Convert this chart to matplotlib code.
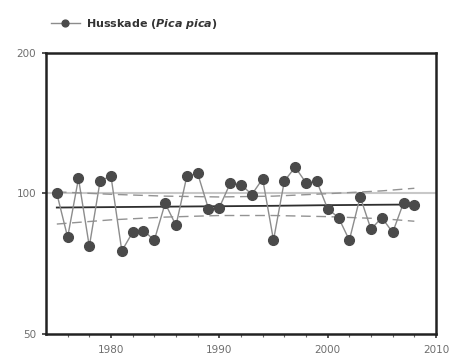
import matplotlib
matplotlib.use("Agg")
import matplotlib.pyplot as plt
from matplotlib.ticker import FixedLocator, NullLocator, FixedFormatter

plt.rcParams['font.family'] = ['DejaVu Sans']
plt.rcParams['mathtext.fontset'] = 'dejavusans'

# index values
years = list(range(1975, 2009))
index = [100.0, 80.6, 107.7, 77.0, 106.5, 108.9, 75.3, 82.6, 83.3, 79.4,
         95.3, 85.4, 108.9, 110.4, 92.7, 93.3, 105.1, 104.5, 99.5, 107.5,
         79.4, 106.3, 113.9, 105.4, 106.1, 92.7, 88.8, 79.4, 98.4, 83.8,
         88.8, 82.5, 95.5, 94.7]

# trend line and its confidence band
trend_years = [1975, 1980, 1985, 1990, 1995, 2000, 2005, 2008]
trend = [93.3, 93.5, 93.7, 93.9, 94.1, 94.4, 94.6, 94.7]
upper = [100.8, 99.6, 98.7, 98.3, 98.7, 99.9, 101.3, 102.6]
lower = [86.0, 87.8, 89.0, 89.7, 89.7, 89.2, 88.3, 87.2]

label = r"Husskade ($\mathbfit{Pica\ pica}$)"

fig = plt.figure(figsize=(4.53, 3.56), dpi=100)
ax = fig.add_axes([0.1015, 0.062, 0.861, 0.789])

ax.axhline(100, color="#c8c8c8", lw=1.5, zorder=1)
ax.plot(trend_years, upper, color="#939393", lw=1.0, dashes=(7, 4), zorder=2)
ax.plot(trend_years, lower, color="#939393", lw=1.0, dashes=(7, 4), zorder=2)
ax.plot(trend_years, trend, color="#2e2e2e", lw=1.3, zorder=3)
line, = ax.plot(years, index, color="#8c8c8c", lw=1.0, marker="o", ms=7,
                mfc="#4a4a4a", mec="#4a4a4a", zorder=4, label=label)

ax.set_yscale("log")
ax.set_ylim(50, 200)
ax.set_xlim(1974, 2010)
ax.yaxis.set_major_locator(FixedLocator([50, 100, 200]))
ax.yaxis.set_major_formatter(FixedFormatter(["50", "100", "200"]))
ax.yaxis.set_minor_locator(NullLocator())
ax.xaxis.set_major_locator(FixedLocator([1980, 1990, 2000, 2010]))
ax.xaxis.set_minor_locator(FixedLocator(list(range(1976, 2010, 2))))

for s in ax.spines.values():
    s.set_linewidth(1.8)
    s.set_color("#222222")
ax.tick_params(which="major", direction="out", length=3, width=1.2,
               color="#333333", labelsize=7.5, labelcolor="#6e6e6e", pad=4)
ax.tick_params(axis="x", which="major", pad=5)
ax.tick_params(which="minor", direction="out", length=2, width=0.8,
               color="#666666")

leg = fig.legend(handles=[line], loc="center left",
                 bbox_to_anchor=(0.09, 0.932), frameon=False,
                 handlelength=2.6, handletextpad=0.6, markerscale=0.7,
                 prop={"size": 8, "weight": "bold"})
for t in leg.get_texts():
    t.set_color("#333333")

fig.savefig("out.png", dpi=100)
